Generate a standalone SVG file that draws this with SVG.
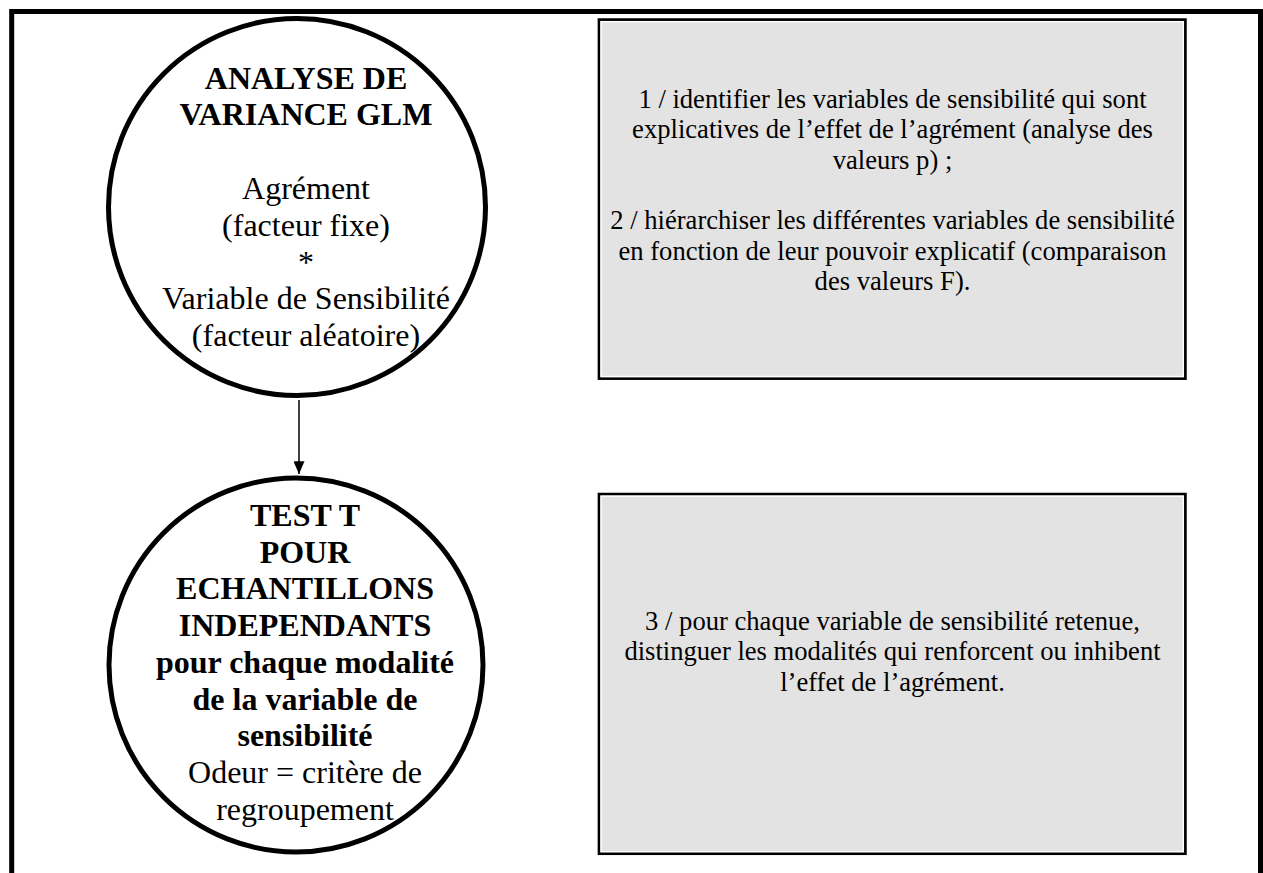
<svg xmlns="http://www.w3.org/2000/svg" width="1263" height="873" viewBox="0 0 1263 873">
<defs>
<style>
.frame{fill:none;stroke:#000;stroke-width:5}
.circ{fill:#fff;stroke:#000;stroke-width:5}
.boxo{fill:#e3e3e3;stroke:#000;stroke-width:2.7}
.boxi{fill:#e3e3e3;stroke:#fff;stroke-width:1.4}
.t{font-family:"Liberation Serif","Times New Roman",serif;fill:#000;text-anchor:middle}
.c{font-size:32px}
.b{font-weight:bold}
.bx{font-size:26.6px}
.conn{stroke:#000;stroke-width:1.5;fill:none}
</style>
<marker id="ah" markerWidth="13" markerHeight="11" refX="12.7" refY="5.5" orient="auto" markerUnits="userSpaceOnUse">
<path d="M0,0 L12.7,5.5 L0,11 Z" fill="#000"/>
</marker>
</defs>
<rect width="1263" height="873" fill="#fff"/>
<path class="frame" d="M11.7,873 V11.5 H1260.5 V873"/>
<g id="connectors">
<line class="conn" x1="299" y1="400" x2="299" y2="474" marker-end="url(#ah)"/>
</g>
<g id="node-glm">
<circle class="circ" cx="297" cy="207" r="188.5"/>
<text class="t c b" x="306" y="88.5">ANALYSE DE</text>
<text class="t c b" x="306" y="125.3">VARIANCE GLM</text>
<text class="t c" x="306" y="198.9">Agrément</text>
<text class="t c" x="306" y="235.7">(facteur fixe)</text>
<text class="t c" x="306" y="272.5">*</text>
<text class="t c" x="306" y="309.3">Variable de Sensibilité</text>
<text class="t c" x="306" y="346.1">(facteur aléatoire)</text>
</g>
<g id="node-ttest">
<circle class="circ" cx="296" cy="665" r="187"/>
<text class="t c b" x="305" y="526">TEST T</text>
<text class="t c b" x="305" y="562.7">POUR</text>
<text class="t c b" x="305" y="599.4">ECHANTILLONS</text>
<text class="t c b" x="305" y="636.1">INDEPENDANTS</text>
<text class="t c b" x="305" y="672.8">pour chaque modalité</text>
<text class="t c b" x="305" y="709.5">de la variable de</text>
<text class="t c b" x="305" y="746.2">sensibilité</text>
<text class="t c" x="305" y="782.9">Odeur = critère de</text>
<text class="t c" x="305" y="819.6">regroupement</text>
</g>
<g id="box-1">
<rect class="boxo" x="599" y="19.6" width="586.4" height="359"/>
<rect class="boxi" x="601.1" y="21.7" width="582.2" height="354.8"/>
<text class="t bx" x="892.5" y="108.1">1 / identifier les variables de sensibilité qui sont</text>
<text class="t bx" x="892.5" y="138.4">explicatives de l’effet de l’agrément (analyse des</text>
<text class="t bx" x="892.5" y="168.7">valeurs p) ;</text>
<text class="t bx" x="892.5" y="229.3">2 / hiérarchiser les différentes variables de sensibilité</text>
<text class="t bx" x="892.5" y="259.6">en fonction de leur pouvoir explicatif (comparaison</text>
<text class="t bx" x="892.5" y="289.9">des valeurs F).</text>
</g>
<g id="box-2">
<rect class="boxo" x="599" y="494.1" width="586.4" height="359.6"/>
<rect class="boxi" x="601.1" y="496.2" width="582.2" height="355.4"/>
<text class="t bx" x="892.5" y="630">3 / pour chaque variable de sensibilité retenue,</text>
<text class="t bx" x="892.5" y="660.4">distinguer les modalités qui renforcent ou inhibent</text>
<text class="t bx" x="892.5" y="690.8">l’effet de l’agrément.</text>
</g>
</svg>
